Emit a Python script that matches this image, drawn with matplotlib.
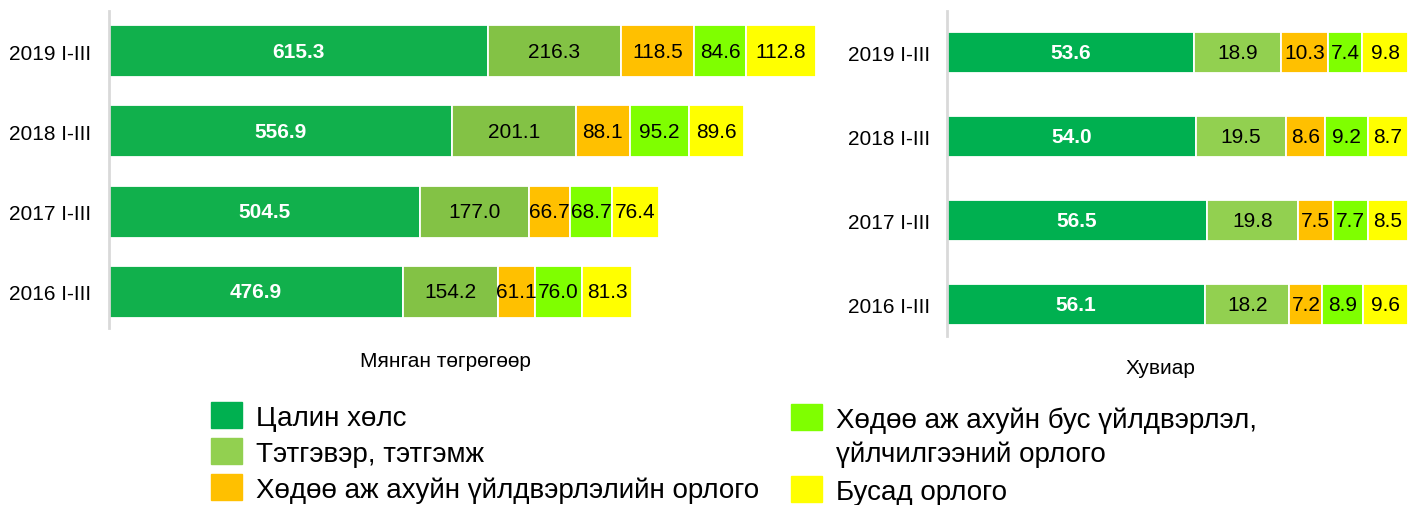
import matplotlib
matplotlib.use('Agg')
import matplotlib.pyplot as plt
from matplotlib.patches import Rectangle
import numpy as np

# data
periods = ['2016 I-III', '2017 I-III', '2018 I-III', '2019 I-III']
categories = ['Цалин хөлс',
              'Тэтгэвэр, тэтгэмж',
              'Хөдөө аж ахуйн үйлдвэрлэлийн орлого',
              'Хөдөө аж ахуйн бус үйлдвэрлэл,\nүйлчилгээний орлого',
              'Бусад орлого']

# thousand togrog
wage = [476.9, 504.5, 556.9, 615.3]
pension = [154.2, 177.0, 201.1, 216.3]
agri = [61.1, 66.7, 88.1, 118.5]
nonagri = [76.0, 68.7, 95.2, 84.6]
other = [81.3, 76.4, 89.6, 112.8]

# percent
wage_pct = [56.1, 56.5, 54.0, 53.6]
pension_pct = [18.2, 19.8, 19.5, 18.9]
agri_pct = [7.2, 7.5, 8.6, 10.3]
nonagri_pct = [8.9, 7.7, 9.2, 7.4]
other_pct = [9.6, 8.5, 8.7, 9.8]

colors_left = ['#11B04C', '#83C245', '#FFC000', '#7FFF00', '#FFFF00']
colors_right = ['#00B050', '#92D050', '#FFC000', '#7FFF00', '#FFFF00']

plt.rcParams['font.family'] = ['Liberation Sans', 'DejaVu Sans']

W, H = 1409, 506
fig = plt.figure(figsize=(W / 100, H / 100), dpi=100)
FS = 15


def px(x0, y0, x1, y1):
    return [x0 / W, 1 - y1 / H, (x1 - x0) / W, (y1 - y0) / H]


def draw(ax, series, colors, height, xmax, ylo, pad):
    y = np.arange(len(periods))
    left = np.zeros(len(periods))
    for i, (vals, c) in enumerate(zip(series, colors)):
        vals = np.array(vals)
        bars = ax.barh(y, vals, left=left, height=height, color=c,
                       edgecolor='white', linewidth=1.3)
        for b, v in zip(bars, vals):
            cx = b.get_x() + b.get_width() / 2
            cy = b.get_y() + b.get_height() / 2
            if i == 0:
                ax.text(cx, cy, f'{v:.1f}', ha='center', va='center',
                        color='white', fontsize=FS, fontweight='bold')
            else:
                ax.text(cx, cy, f'{v:.1f}', ha='center', va='center',
                        color='black', fontsize=FS)
        left += vals
    ax.set_xlim(0, xmax)
    ax.set_ylim(ylo, 3.5)
    ax.set_yticks(y)
    ax.set_yticklabels(periods, fontsize=FS)
    ax.tick_params(axis='y', length=0, pad=pad)
    ax.set_xticks([])
    for s in ['top', 'right', 'bottom']:
        ax.spines[s].set_visible(False)
    ax.spines['left'].set_color('#D9D9D9')
    ax.spines['left'].set_linewidth(2)


ax1 = fig.add_axes(px(109, 12, 848, 329))
draw(ax1, [wage, pension, agri, nonagri, other], colors_left, 0.65, 1200, -0.45, 13)

ax2 = fig.add_axes(px(947, 12, 1409, 337))
draw(ax2, [wage_pct, pension_pct, agri_pct, nonagri_pct, other_pct],
     colors_right, 0.49, 100.3, -0.376, 12)

fig.text(445 / W, 1 - 362 / H, 'Мянган төгрөгөөр', ha='center', va='center', fontsize=FS)
fig.text(1160 / W, 1 - 368 / H, 'Хувиар', ha='center', va='center', fontsize=FS)

# legend
leg_pos = [(211, 416), (211, 452), (211, 488), (791, 418), (791, 490)]
for (x, y), lab, c in zip(leg_pos, categories, colors_right):
    fig.add_artist(Rectangle((x / W, 1 - (y + 13) / H), 31 / W, 26 / H,
                             transform=fig.transFigure, color=c))
    lines = lab.split('\n')
    for k, line in enumerate(lines):
        fig.text((x + 45) / W, 1 - (y + 3 + k * 34) / H, line, ha='left', va='center',
                 fontsize=20)

fig.savefig('out.png', dpi=100)
